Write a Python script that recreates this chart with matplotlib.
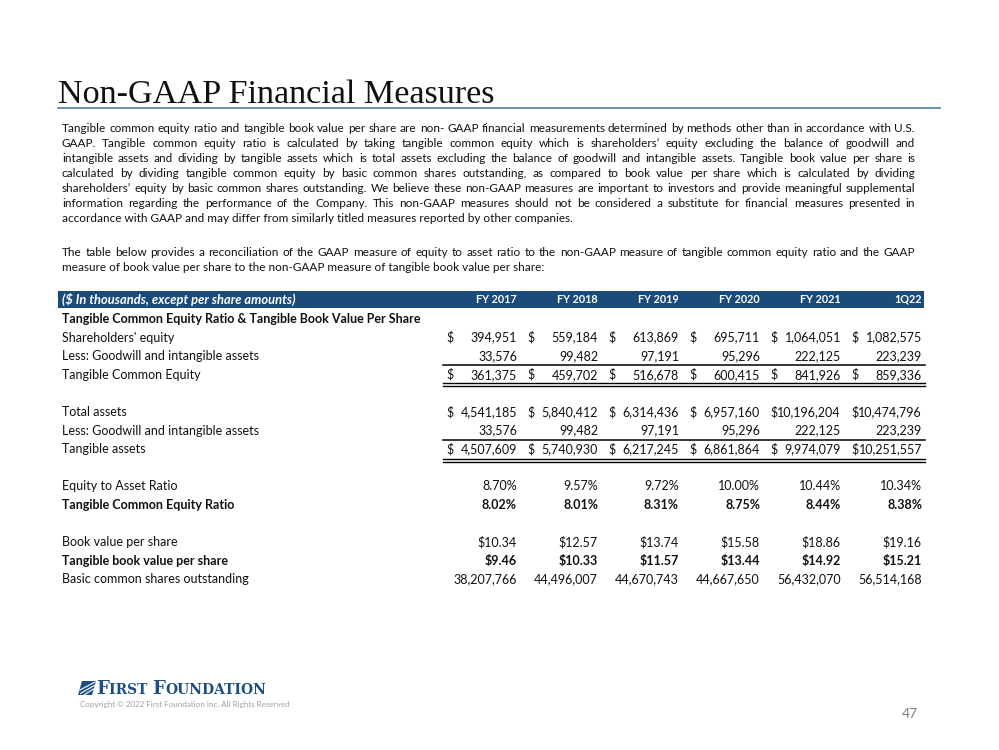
import matplotlib
matplotlib.use('Agg')
import matplotlib.pyplot as plt
from matplotlib.patches import Rectangle, Polygon

# table data
periods = ['FY 2017', 'FY 2018', 'FY 2019', 'FY 2020', 'FY 2021', '1Q22']
shareholders_equity = [394951, 559184, 613869, 695711, 1064051, 1082575]
goodwill = [33576, 99482, 97191, 95296, 222125, 223239]
tangible_common_equity = [361375, 459702, 516678, 600415, 841926, 859336]
total_assets = [4541185, 5840412, 6314436, 6957160, 10196204, 10474796]
tangible_assets = [4507609, 5740930, 6217245, 6861864, 9974079, 10251557]
equity_to_asset = [8.70, 9.57, 9.72, 10.00, 10.44, 10.34]
tce_ratio = [8.02, 8.01, 8.31, 8.75, 8.44, 8.38]
book_value_ps = [10.34, 12.57, 13.74, 15.58, 18.86, 19.16]
tangible_bv_ps = [9.46, 10.33, 11.57, 13.44, 14.92, 15.21]
shares_out = [38207766, 44496007, 44670743, 44667650, 56432070, 56514168]

para1 = [
    "Tangible common equity ratio and tangible book value per share are non- GAAP financial measurements determined by methods other than in accordance with U.S.",
    "GAAP.  Tangible common equity ratio is calculated by taking tangible common equity which is shareholders\u2019 equity excluding the balance of goodwill and",
    "intangible assets and dividing by tangible assets which is total assets excluding the balance of goodwill and intangible assets. Tangible book value per share is",
    "calculated by dividing tangible common equity by basic common shares outstanding, as compared to book value per share which is calculated by dividing",
    "shareholders\u2019 equity by basic common shares outstanding. We believe these non-GAAP measures are important to investors and  provide meaningful supplemental",
    "information regarding the performance of the Company.  This non-GAAP measures should not be considered a substitute for financial measures presented in",
    "accordance with GAAP and may differ from similarly titled measures reported by other companies.",
]
para2 = [
    "The table below provides a reconciliation of the GAAP measure of equity to asset ratio to the non-GAAP measure of tangible common equity ratio and the GAAP",
    "measure of book value per share to the non-GAAP measure of tangible book value per share:",
]

BODY = ['Lato', 'DejaVu Sans']
NAVY = '#1b4b7b'
INK = '#111111'

fig = plt.figure(figsize=(9.99, 7.5), dpi=100)
ax = fig.add_axes([0, 0, 1, 1])
ax.set_xlim(0, 999)
ax.set_ylim(750, 0)
ax.axis('off')
fig.canvas.draw()
renderer = fig.canvas.get_renderer()


def width_of(t):
    return t.get_window_extent(renderer).width


def justify(line, y, x0, x1, size, stretch=True):
    if not stretch:
        ax.text(x0, y, line, fontsize=size, family=BODY, va='baseline', ha='left', color=INK)
        return
    words = line.split()
    texts = [ax.text(0, y, w, fontsize=size, family=BODY, va='baseline', ha='left', color=INK) for w in words]
    widths = [width_of(t) for t in texts]
    gap = (x1 - x0 - sum(widths)) / (len(words) - 1)
    x = x0
    for t, w in zip(texts, widths):
        t.set_x(x)
        x += w + gap


# title, sized to the reference width
title = ax.text(58, 103, 'Non-GAAP Financial Measures', fontsize=20, family='Liberation Serif',
                va='baseline', ha='left', color=INK)
title.set_fontsize(20 * 437 / width_of(title))
ax.plot([58, 940], [107.5, 107.5], color='#5b87b0', lw=1.3)

# paragraphs
for i, line in enumerate(para1):
    justify(line, 132 + 15 * i, 62, 915, 8.45, stretch=(i < len(para1) - 1))
for i, line in enumerate(para2):
    justify(line, 256 + 15 * i, 62, 915, 8.45, stretch=(i == 0))

# table header
ax.add_patch(Rectangle((58, 291), 866, 17, color=NAVY, lw=0))
ax.text(62, 303.5, '($ In thousands, except per share amounts)', fontsize=9.3, family=BODY,
        weight='bold', style='italic', color='white', va='baseline')
col_right = [517, 598, 679, 760, 841, 922]
for xr, p in zip(col_right, periods):
    ax.text(xr, 303, p, fontsize=7.8, family=BODY, weight='bold', color='white',
            va='baseline', ha='right')


def row_y(k):
    return 323 + 18.6 * k


def money(vals, k, bold=False, dollar=True):
    for xr, v in zip(col_right, vals):
        num = ax.text(xr, row_y(k), f'{v:,}', fontsize=9, family=BODY, va='baseline', ha='right',
                      weight='bold' if bold else 'normal', color=INK)
        if dollar:
            xd = min(xr - 71, xr - width_of(num) - 7)
            ax.text(xd, row_y(k), '$', fontsize=9, family=BODY, va='baseline', ha='left',
                    weight='bold' if bold else 'normal', color=INK)


def fmt_row(vals, k, fmt, bold=False):
    for xr, v in zip(col_right, vals):
        ax.text(xr, row_y(k), fmt.format(v), fontsize=9, family=BODY, va='baseline', ha='right',
                weight='bold' if bold else 'normal', color=INK)


labels = [
    (0, 'Tangible Common Equity Ratio & Tangible Book Value Per Share', True),
    (1, "Shareholders' equity", False),
    (2, 'Less: Goodwill and intangible assets', False),
    (3, 'Tangible Common Equity', False),
    (5, 'Total assets', False),
    (6, 'Less: Goodwill and intangible assets', False),
    (7, 'Tangible assets', False),
    (9, 'Equity to Asset Ratio', False),
    (10, 'Tangible Common Equity Ratio', True),
    (12, 'Book value per share', False),
    (13, 'Tangible book value per share', True),
    (14, 'Basic common shares outstanding', False),
]
for k, lab, b in labels:
    ax.text(62, row_y(k), lab, fontsize=9, family=BODY, va='baseline', ha='left',
            weight='bold' if b else 'normal', color=INK)

money(shareholders_equity, 1)
money(goodwill, 2, dollar=False)
money(tangible_common_equity, 3)
money(total_assets, 5)
money(goodwill, 6, dollar=False)
money(tangible_assets, 7)
fmt_row(equity_to_asset, 9, '{:.2f}%')
fmt_row(tce_ratio, 10, '{:.2f}%', bold=True)
fmt_row(book_value_ps, 12, '${:.2f}')
fmt_row(tangible_bv_ps, 13, '${:.2f}', bold=True)
fmt_row(shares_out, 14, '{:,}')

# rules under subtotals
for ys in (365, 440):
    ax.plot([443, 925], [ys, ys], color='black', lw=1.1)
for yd in (383, 458.5):
    ax.plot([443, 925], [yd, yd], color='black', lw=1.0)
    ax.plot([443, 925], [yd + 3, yd + 3], color='black', lw=1.0)

# footer logo
LOGO = '#1d4f86'
ax.add_patch(Polygon([[82, 681], [96, 681], [92, 695], [78, 695]], color=LOGO, lw=0))
for s in range(3):
    yy = 684 + s * 3.5
    ax.plot([80 + s * 0.5, 95 - s * 0.8], [yy + 6, yy - 2], color='white', lw=0.8)
x = 96
for piece, sz in [('F', 13), ('IRST ', 10), ('F', 13), ('OUNDATION', 10)]:
    t = ax.text(x, 694, piece, fontsize=sz, family='DejaVu Serif', weight='bold',
                color=LOGO, va='baseline', ha='left')
    x += width_of(t)
ax.text(80, 707, 'Copyright \u00a9 2022 First Foundation Inc. All Rights Reserved', fontsize=5.8,
        family=BODY, color='#a0a0a0', va='baseline', ha='left')
ax.text(918, 718, '47', fontsize=10, family=BODY, color='#808080', va='baseline', ha='right')

fig.savefig('out.png', dpi=100)
